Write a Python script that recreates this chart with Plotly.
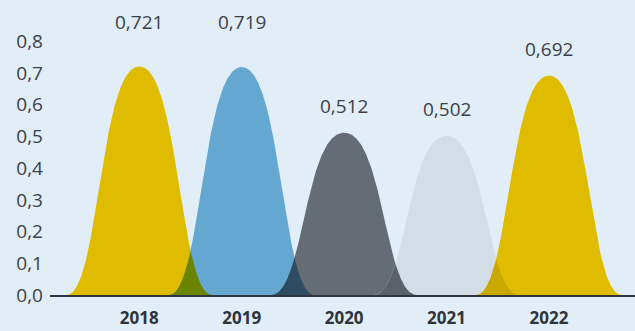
import numpy as np
import plotly.graph_objects as go

years = ["2018", "2019", "2020", "2021", "2022"]
values = [0.721, 0.719, 0.512, 0.502, 0.692]
colors = ["#e0bc00", "#64a8d1", "#656c74", "#d3dde5"]
colors = colors + [colors[0]]
overlap_colors = ["#6a8400", "#2e4c61", "#5b6169", "#c9a800"]
label_lift = [44, 45, 27, 27, 27]  # px above the peak (label centre)
y_ticks = [0.0, 0.1, 0.2, 0.3, 0.4, 0.5, 0.6, 0.7, 0.8]

BG = "#e1eef7"
HALF_W = 0.71
A, B = 0.45, 0.55

t = np.linspace(0, 1, 300)
# cubic bezier from (-1,0) to (0,1) with controls (-1+A,0) and (-B,1)
bx = ((1 - t) ** 3) * (-1) + 3 * (1 - t) ** 2 * t * (-1 + A) + 3 * (1 - t) * t ** 2 * (-B)
by = 3 * (1 - t) * t ** 2 + t ** 3


def profile(center, v):
    xl = center + HALF_W * bx
    xr = center - HALF_W * bx[::-1]
    yl = v * by
    yr = v * by[::-1]
    return np.concatenate([xl, xr[1:]]), np.concatenate([yl, yr[1:]])


def f_at(center, v, xs):
    px, py = profile(center, v)
    return np.interp(xs, px, py, left=0, right=0)


fig = go.Figure()
for i, (yr, v) in enumerate(zip(years, values)):
    px, py = profile(i, v)
    fig.add_trace(go.Scatter(x=px, y=py, fill="toself", mode="lines",
                             line=dict(width=0, color=colors[i]),
                             fillcolor=colors[i], hoverinfo="skip",
                             showlegend=False))

for i in range(len(values) - 1):
    xs = np.linspace(i + 1 - HALF_W, i + HALF_W, 200)
    ys = np.minimum(f_at(i, values[i], xs), f_at(i + 1, values[i + 1], xs))
    fig.add_trace(go.Scatter(x=xs, y=ys, fill="toself", mode="lines",
                             line=dict(width=0, color=overlap_colors[i]),
                             fillcolor=overlap_colors[i], hoverinfo="skip",
                             showlegend=False))

for i, v in enumerate(values):
    fig.add_annotation(x=i, y=v, text=f"{v:.3f}".replace(".", ","),
                       showarrow=False, yanchor="middle", yshift=label_lift[i],
                       font=dict(family="Open Sans", size=19, color="#3c4048"))

fig.update_layout(
    width=635, height=331,
    margin=dict(l=50, r=0, t=10, b=36),
    paper_bgcolor=BG, plot_bgcolor=BG,
    separators=",.",
    showlegend=False,
    xaxis=dict(range=[-0.872, 4.84], tickvals=list(range(len(years))), ticktext=years,
               showgrid=False, zeroline=False, showline=True, linecolor="#30343c",
               linewidth=2, ticks="", ticklabelstandoff=7, automargin=False,
               tickfont=dict(family="Open Sans", size=17, color="#2f333b", weight="bold")),
    yaxis=dict(range=[0, 0.899], tickvals=y_ticks, tickformat=".1f",
               showgrid=False, zeroline=False, showline=False, ticks="",
               ticklabelstandoff=6, automargin=False,
               tickfont=dict(family="Open Sans", size=19, color="#3c4048")),
)

fig.write_html("out.html")
